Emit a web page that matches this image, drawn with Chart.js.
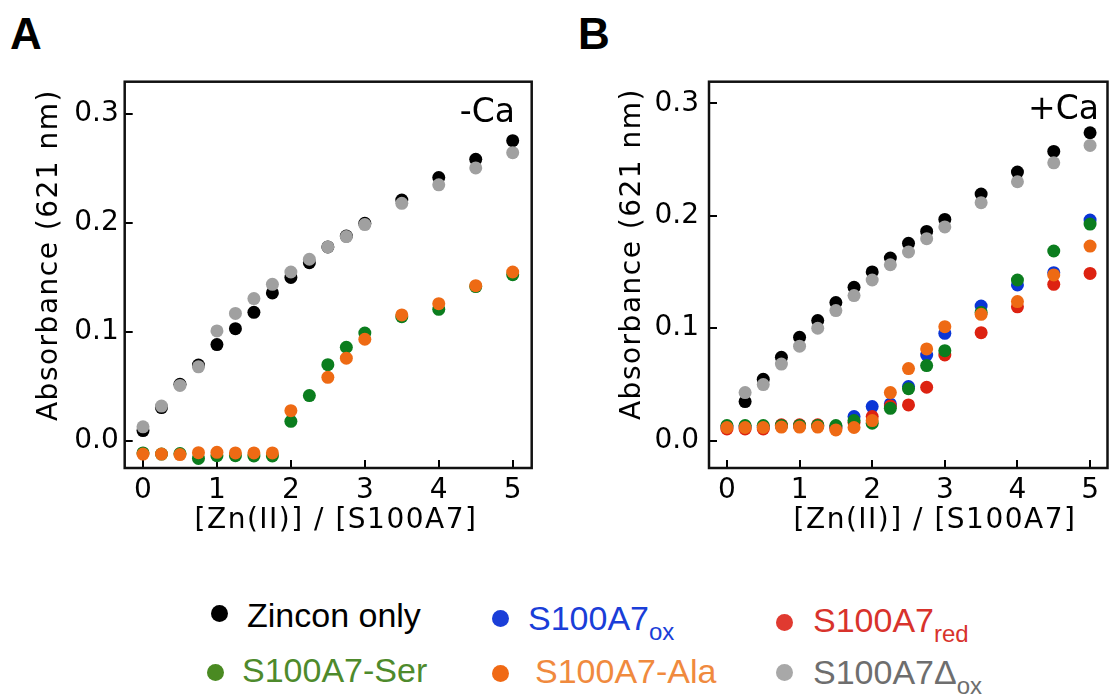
<!DOCTYPE html>
<html lang="en">
<head>
<meta charset="utf-8">
<title>Zincon absorbance vs [Zn(II)]/[S100A7]</title>
<style>
body { margin: 0; background: #fff; }
#wrap { position: relative; width: 1114px; height: 696px; font-family: "Liberation Sans", Arial, sans-serif; }
.panel { position: absolute; top: 0; height: 560px; }
.tag { position: absolute; font: bold 44px "Liberation Sans", Arial, sans-serif; line-height: 1; }
.lg { position: absolute; font-size: 34px; white-space: nowrap; line-height: 1; }
.lg sub { font-size: 24px; vertical-align: -10px; line-height: 0; }
.dot { position: absolute; width: 17px; height: 17px; border-radius: 50%; }
</style>
</head>
<body>
<div id="wrap">
  <div class="tag" style="left:10px; top:12px">A</div>
  <div class="tag" style="left:578px; top:12px">B</div>
  <div class="panel" style="left:0; width:560px"><canvas id="chartA"></canvas></div>
  <div class="panel" style="left:560px; width:554px"><canvas id="chartB"></canvas></div>

  <div class="dot" style="left:211px; top:605px; background:#000"></div>
  <div class="lg" style="left:247px; top:598px; color:#000">Zincon only</div>
  <div class="dot" style="left:492px; top:610px; background:#1a3ed8"></div>
  <div class="lg" style="left:528px; top:601px; color:#1a3ed8">S100A7<sub>ox</sub></div>
  <div class="dot" style="left:776px; top:614px; background:#e03a30"></div>
  <div class="lg" style="left:813px; top:603px; color:#d8332c">S100A7<sub>red</sub></div>

  <div class="dot" style="left:207px; top:664px; background:#4a8a22"></div>
  <div class="lg" style="left:242px; top:653px; color:#4e8a2c">S100A7-Ser</div>
  <div class="dot" style="left:492px; top:665px; background:#f06914"></div>
  <div class="lg" style="left:535px; top:654px; color:#f08a3e">S100A7-Ala</div>
  <div class="dot" style="left:776px; top:664px; background:#a8a8a8"></div>
  <div class="lg" style="left:813px; top:655px; color:#6e6e6e">S100A7&Delta;<sub>ox</sub></div>
</div>
<script src="https://cdn.jsdelivr.net/npm/chart.js"></script>
<script>

// [Zn(II)] / [S100A7] ratios
let RATIO = [0, 0.25, 0.5, 0.75, 1, 1.25, 1.5, 1.75, 2, 2.25, 2.5, 2.75, 3, 3.5, 4, 4.5, 5]

// A: -Ca
let zinconA = [0.0095, 0.0306, 0.052, 0.0697, 0.0884, 0.103, 0.118, 0.1358, 0.150, 0.1636, 0.178, 0.188, 0.1997, 0.221, 0.2416, 0.2584, 0.2755]
let deltaA  = [0.013, 0.032, 0.051, 0.068, 0.101, 0.117, 0.1306, 0.1437, 0.155, 0.1667, 0.178, 0.1875, 0.1985, 0.218, 0.235, 0.2505, 0.2645]
let serA    = [-0.011, -0.012, -0.0115, -0.016, -0.0135, -0.0135, -0.0138, -0.0138, 0.018, 0.0416, 0.070, 0.086, 0.099, 0.114, 0.1208, 0.1416, 0.1526]
let alaA    = [-0.012, -0.012, -0.0125, -0.0107, -0.0104, -0.011, -0.011, -0.011, 0.0278, null, 0.0584, 0.076, 0.0933, 0.1156, 0.126, 0.1425, 0.155]

// B: +Ca
let zinconB = [null, 0.0347, 0.0545, 0.074, 0.0919, 0.1067, 0.1227, 0.1363, 0.150, 0.1624, 0.1754, 0.186, 0.1967, 0.2193, 0.2388, 0.2572, 0.2738]
let deltaB  = [null, 0.0427, 0.0498, 0.068, 0.084, 0.0999, 0.1156, 0.129, 0.1428, 0.1564, 0.1677, 0.1796, 0.190, 0.2116, 0.2302, 0.247, 0.2625]
let oxB     = [0.012, 0.012, 0.012, 0.013, 0.013, 0.013, 0.012, 0.0213, 0.0302, 0.0326, 0.048, 0.0761, 0.0954, 0.1197, 0.1384, 0.1493, 0.1961]
let redB    = [0.0104, 0.0104, 0.0104, 0.014, 0.014, 0.014, 0.011, 0.016, 0.0213, 0.0308, 0.0317, 0.0474, 0.0761, 0.096, 0.119, 0.139, 0.1487]
let serB    = [0.0133, 0.0133, 0.0133, 0.0135, 0.0135, 0.0135, 0.0133, 0.0178, 0.0154, 0.0287, 0.0462, 0.0667, 0.080, 0.114, 0.1428, 0.1686, 0.1926]
let alaB    = [0.0116, 0.0116, 0.0116, 0.012, 0.012, 0.012, 0.0095, 0.0116, 0.0178, 0.0427, 0.064, 0.0815, 0.1013, 0.1123, 0.1236, 0.1473, 0.173]

let Y_TICKS = [0, 0.1, 0.2, 0.3]
let X_TICKS = [0, 1, 2, 3, 4, 5]

let COLORS = {
    zincon: "#000000",
    delta: "#a0a0a0",
    ox: "#0a35d6",
    red: "#dd2211",
    ser: "#0b7d1e",
    ala: "#ee6a14",
}

let AXIS_FONT = "'DejaVu Sans', sans-serif"

function points(ys) {
    return RATIO.map((x, i) => ({ x: x, y: ys[i] })).filter(p => p.y !== null)
}

// first in list ends up drawn on top
function dataset(label, ys, color) {
    return {
        label: label,
        data: points(ys),
        backgroundColor: color,
        borderWidth: 0,
        pointRadius: 6.5,
        pointHoverRadius: 6.5,
    }
}

let decor = {
    id: "decor",
    beforeDatasetsDraw(chart, args, o) {
        let a = chart.chartArea, c = chart.ctx
        c.save()
        c.lineWidth = 2.5
        c.strokeStyle = "#111"
        c.strokeRect(a.left, a.top, a.right - a.left, a.bottom - a.top)
        c.restore()
    },
    afterDraw(chart, args, o) {
        let c = chart.ctx
        c.save()
        c.fillStyle = "#000"
        c.textBaseline = "middle"
        c.font = "33px " + AXIS_FONT
        c.textAlign = "right"
        c.fillText(o.cond, o.condX, o.condY)
        c.textAlign = "center"
        c.font = "28px " + AXIS_FONT
        c.letterSpacing = "1.5px"
        c.fillText("[Zn(II)] / [S100A7]", o.xTitleX, o.xTitleY)
        c.translate(o.yTitleX, o.yTitleY)
        c.rotate(-Math.PI / 2)
        c.fillText("Absorbance (621 nm)", 0, 0)
        c.restore()
    },
}

function makeChart(id, sets, p) {
    return new Chart(document.getElementById(id), {
        type: "scatter",
        data: { datasets: sets },
        plugins: [decor],
        options: {
            responsive: true,
            maintainAspectRatio: false,
            animation: false,
            layout: { padding: { top: 81.7, right: p.padRight, left: 0, bottom: 0 } },
            plugins: {
                legend: { display: false },
                tooltip: { enabled: false },
                decor: p.decor,
            },
            scales: {
                x: {
                    type: "linear",
                    min: p.xMin,
                    max: p.xMax,
                    afterBuildTicks: s => { s.ticks = X_TICKS.map(v => ({ value: v })) },
                    ticks: { color: "#000", font: { family: AXIS_FONT, size: 28 }, padding: 14, maxRotation: 0 },
                    grid: { drawOnChartArea: false, tickLength: -8, color: "#000", lineWidth: 2 },
                    border: { display: false },
                    afterFit: s => { s.height = 92 },
                },
                y: {
                    min: p.yMin,
                    max: p.yMax,
                    afterBuildTicks: s => { s.ticks = Y_TICKS.map(v => ({ value: v })) },
                    ticks: {
                        color: "#000",
                        font: { family: AXIS_FONT, size: 28 },
                        padding: p.yPad,
                        callback: v => v.toFixed(1),
                    },
                    grid: { drawOnChartArea: false, tickLength: -8, color: "#000", lineWidth: 2 },
                    border: { display: false },
                    afterFit: s => { s.width = p.yWidth },
                },
            },
        },
    })
}

makeChart("chartA", [
    dataset("S100A7-Ala", alaA, COLORS.ala),
    dataset("S100A7-Ser", serA, COLORS.ser),
    dataset("S100A7Δox", deltaA, COLORS.delta),
    dataset("Zincon only", zinconA, COLORS.zincon),
], {
    xMin: -0.2475, xMax: 5.257, yMin: -0.0248, yMax: 0.3296,
    yWidth: 124.7, padRight: 28.3, yPad: 14,
    decor: { cond: "-Ca", condX: 515, condY: 113, xTitleX: 336, xTitleY: 521, yTitleX: 50, yTitleY: 255 },
})

makeChart("chartB", [
    dataset("S100A7-Ala", alaB, COLORS.ala),
    dataset("S100A7-Ser", serB, COLORS.ser),
    dataset("S100A7red", redB, COLORS.red),
    dataset("S100A7ox", oxB, COLORS.ox),
    dataset("S100A7Δox", deltaB, COLORS.delta),
    dataset("Zincon only", zinconB, COLORS.zincon),
], {
    xMin: -0.247, xMax: 5.24, yMin: -0.0244, yMax: 0.3192,
    yWidth: 149, padRight: 2, yPad: 18,
    decor: { cond: "+Ca", condX: 539, condY: 110, xTitleX: 375, xTitleY: 521, yTitleX: 72.5, yTitleY: 254 },
})

</script>
</body>
</html>
